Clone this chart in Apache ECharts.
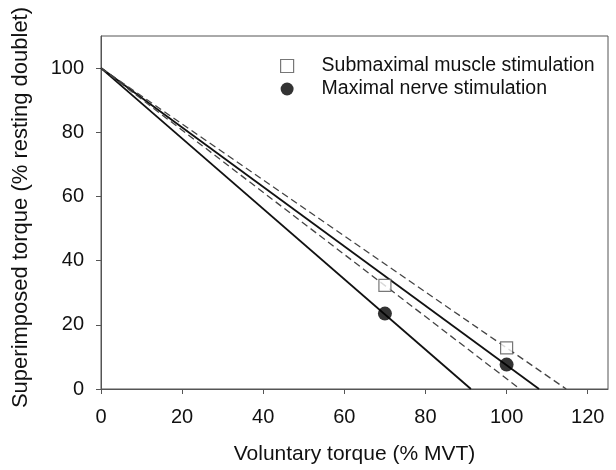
<!DOCTYPE html>
<html><head><meta charset="utf-8">
<script src="https://cdn.jsdelivr.net/npm/echarts@6/dist/echarts.min.js"></script>
<style>html,body{margin:0;padding:0;background:#fff}#c{width:616px;height:470px}</style>
</head><body><div id="c"></div>
<script>
const xTicks = [0, 20, 40, 60, 80, 100, 120];
const yTicks = [0, 20, 40, 60, 80, 100];
const subX = [70, 100];
const subY = [32.3, 12.8];
const nerveX = [70, 100];
const nerveY = [23.5, 7.6];
const lineStart = [0, 100];
const solidIntercepts = [91.2, 108.0];
const dashedIntercepts = [103.3, 114.7];
const seriesNames = ['Submaximal muscle stimulation', 'Maximal nerve stimulation'];

const font = 'Liberation Sans, Arial, sans-serif';
const lines = [];
solidIntercepts.forEach(x0 => lines.push({
  type: 'line', data: [lineStart, [x0, 0]], showSymbol: false, silent: true,
  lineStyle: { color: '#111', width: 1.8, type: 'solid' }, z: 2
}));
dashedIntercepts.forEach(x0 => lines.push({
  type: 'line', data: [lineStart, [x0, 0]], showSymbol: false, silent: true,
  lineStyle: { color: '#444', width: 1.3, type: [7, 4] }, z: 2
}));

const chart = echarts.init(document.getElementById('c'), null, { renderer: 'canvas' });
chart.setOption({
  animation: false,
  backgroundColor: '#fff',
  grid: { left: 101, right: 8, top: 36, bottom: 81, show: true, borderColor: '#555', borderWidth: 1 },
  legend: {
    orient: 'vertical', left: 280, top: 56, itemGap: 3, itemWidth: 13, itemHeight: 13, padding: 0,
    textStyle: { fontFamily: font, fontSize: 19.5, lineHeight: 20, color: '#111', padding: [0, 0, 0, 23] },
    data: [
      { name: seriesNames[0], icon: 'rect', itemStyle: { color: '#fff', borderColor: '#555', borderWidth: 1.2 } },
      { name: seriesNames[1], icon: 'circle', itemStyle: { color: '#000' } }
    ]
  },
  xAxis: {
    type: 'value', min: 0, max: 125, interval: 20,
    name: 'Voluntary torque (% MVT)', nameLocation: 'middle', nameGap: 55,
    nameTextStyle: { fontFamily: font, fontSize: 21, color: '#111' },
    axisLine: { show: true, lineStyle: { color: '#555' } },
    axisTick: { show: true, length: 5, lineStyle: { color: '#555' }, customValues: xTicks },
    axisLabel: { fontFamily: font, fontSize: 20, color: '#111', margin: 18, customValues: xTicks },
    splitLine: { show: false }
  },
  yAxis: {
    type: 'value', min: 0, max: 110, interval: 20,
    name: 'Superimposed torque (% resting doublet)', nameLocation: 'middle', nameGap: 69,
    nameTextStyle: { fontFamily: font, fontSize: 22, color: '#111', padding: [0, 0, 0, 10] },
    axisLine: { show: true, lineStyle: { color: '#555' } },
    axisTick: { show: true, length: 5, lineStyle: { color: '#555' }, customValues: yTicks },
    axisLabel: { fontFamily: font, fontSize: 20, color: '#111', margin: 17, customValues: yTicks },
    splitLine: { show: false }
  },
  series: lines.concat([
    { name: seriesNames[0], type: 'scatter', symbol: 'rect', symbolSize: 12,
      data: subX.map((x, i) => [x, subY[i]]),
      itemStyle: { color: '#fff', borderColor: '#555', borderWidth: 1.2 }, z: 5 },
    { name: seriesNames[1], type: 'scatter', symbol: 'circle', symbolSize: 14,
      data: nerveX.map((x, i) => [x, nerveY[i]]),
      itemStyle: { color: '#000' }, z: 5 }
  ])
});
</script></body></html>
